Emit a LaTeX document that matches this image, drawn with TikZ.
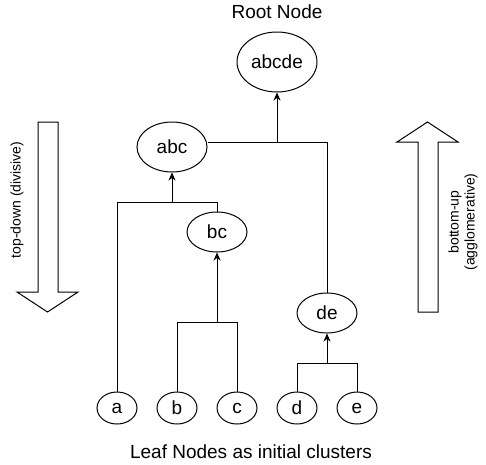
\documentclass[tikz,border=0pt]{standalone}
\usepackage{fontspec}
\setmainfont{Liberation Sans}
\usetikzlibrary{arrows.meta,shapes.geometric}

\begin{document}
\begin{tikzpicture}[x=1pt,y=-1pt,line width=1pt,
		>={Stealth[length=8pt,width=7pt,inset=2.5pt]},
		clus/.style={draw,ellipse,inner sep=0pt,font=\fontsize{19}{22}\selectfont},
		leaf/.style={clus,minimum width=40pt,minimum height=32pt},
		note/.style={inner sep=0pt,font=\fontsize{19}{22}\selectfont},
		side/.style={inner sep=0pt,rotate=90,align=center,font=\fontsize{14}{16}\selectfont},
		bigarrow/.style={draw,line join=miter}]
	\useasboundingbox (0,0) rectangle (486,464);
	\node[clus,minimum width=80pt,minimum height=60pt] (abcde) at (277,62) {abcde};
	\node[clus,minimum width=70pt,minimum height=50pt] (abc) at (172,147) {abc};
	\node[clus,minimum width=60pt,minimum height=40pt] (bc) at (217,232) {bc};
	\node[clus,minimum width=60pt,minimum height=40pt] (de) at (327,313) {de};
	\foreach \n/\x in {a/117,b/177,c/237,d/297,e/357}
		\node[leaf] (\n) at (\x,408) {\n};
	\coordinate (j-abcde) at (277,142);
	\coordinate (j-abc) at (172,202);
	\coordinate (j-bc) at (217,322);
	\coordinate (j-de) at (327,363);
	\draw[->] (a.north) |- (j-abc) -- (abc.south);
	\draw (bc.north) |- (j-abc);
	\draw[->] (b.north) |- (j-bc) -- (bc.south);
	\draw (c.north) |- (j-bc);
	\draw[->] (d.north) |- (j-de) -- (de.south);
	\draw (e.north) |- (j-de);
	\draw[->] (abc.east |- j-abcde) -- (j-abcde) -- (abcde.south);
	\draw (de.north) |- (j-abcde);
	\draw[bigarrow] (38,122) -- (58,122) -- (58,292) -- (78,292) -- (47.5,312) -- (17,292) -- (38,292) -- cycle;
	\draw[bigarrow] (418,312) -- (438,312) -- (438,142) -- (458,142) -- (427.5,122) -- (397,142) -- (418,142) -- cycle;
	\node[note] (root) at (277,11.5) {Root Node};
	\node[note] (leaves) at (251,451.5) {Leaf Nodes as initial clusters};
	\node[side] (down) at (17,200) {top-down (divisive)};
	\node[side] (up) at (463,222) {bottom-up\\(agglomerative)};
\end{tikzpicture}
\end{document}
